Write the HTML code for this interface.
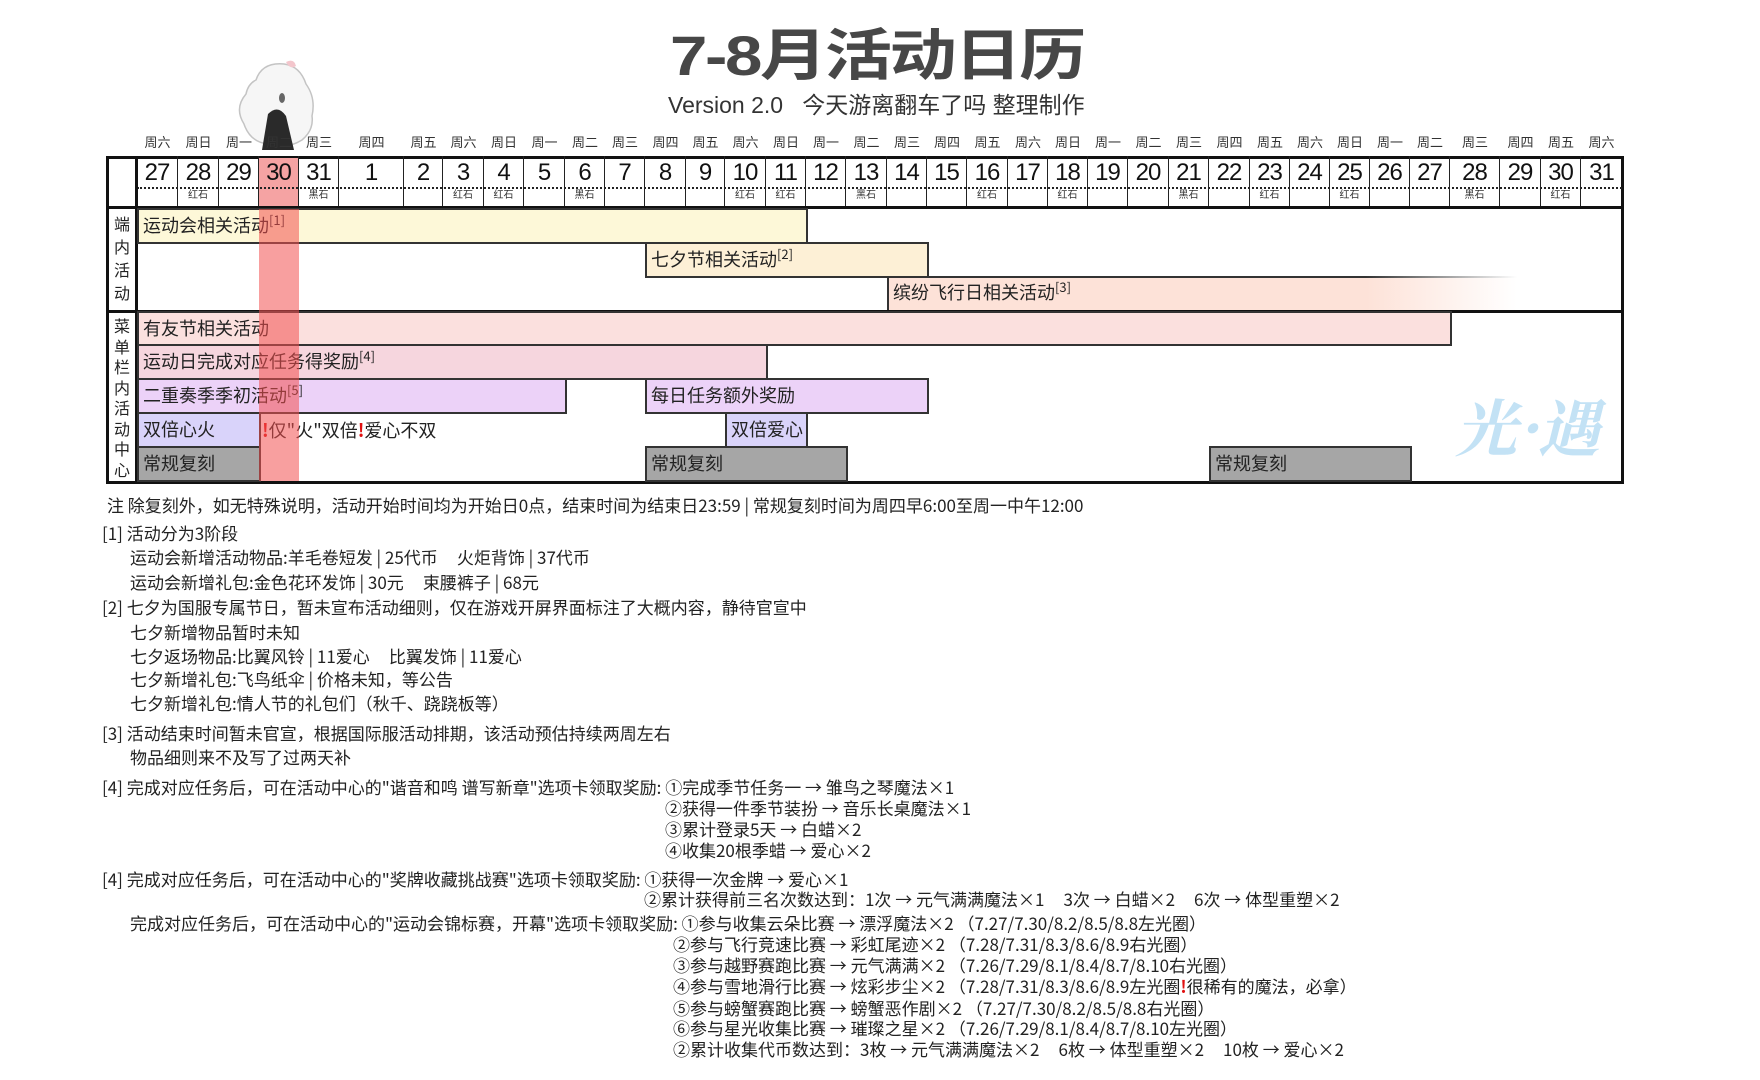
<!DOCTYPE html>
<html><head><meta charset="utf-8">
<style>
*{margin:0;padding:0;box-sizing:border-box}
body{width:1760px;height:1080px;background:#fff;position:relative;overflow:hidden;font-family:"Liberation Sans","Noto Sans CJK SC",sans-serif;color:#222}
.a{position:absolute}
.wd{position:absolute;top:134px;height:18px;font-size:13px;line-height:18px;text-align:center;color:#333;white-space:nowrap}
.c{position:absolute;top:156px;height:52px;border-right:1.5px solid #222;text-align:center}
.c .n{position:absolute;left:0;right:0;top:2px;font-size:24px;line-height:30px;letter-spacing:-1px;color:#111}
.c .s{position:absolute;left:0;right:0;top:33px;font-size:10px;line-height:14px;color:#333}
.bar{position:absolute;border:2px solid #333;font-size:18px;line-height:30px;padding-left:4px;white-space:nowrap;color:#222;font-family:"Noto Sans CJK SC",sans-serif}
.bar sup{font-size:13px;vertical-align:0;position:relative;top:-7px}
.nt{position:absolute;font-size:17px;line-height:20px;white-space:nowrap;color:#222;font-family:"Noto Sans CJK SC",sans-serif}
</style></head><body>

<div class="a" style="left:670px;top:22px;width:415px;height:70px;">
<div style="transform:scaleX(1.2);transform-origin:left top;font-size:56px;line-height:68px;font-weight:bold;color:#474747;white-space:nowrap;letter-spacing:-2px">7-8月活动日历</div></div>
<div class="a" style="left:668px;top:90px;font-size:23px;line-height:30px;color:#333;white-space:nowrap">Version 2.0&nbsp;&nbsp;&nbsp;今天游离翻车了吗 整理制作</div>

<svg class="a" style="left:228px;top:58px" width="95" height="95" viewBox="0 0 95 95">
<path d="M28 22 Q34 4 56 6 Q72 8 78 26 Q88 40 84 58 Q86 72 74 82 Q58 92 40 86 Q22 84 16 66 Q6 50 18 36 Q20 26 28 22Z" fill="#f6f6f6" stroke="#c4c4c4" stroke-width="1.5"/>
<path d="M58 4 Q66 0 68 8 Q62 12 58 4Z" fill="#f3c6cc"/>
<path d="M40 56 Q50 46 58 58 L66 92 L34 92Z" fill="#2a2a2a"/>
<ellipse cx="54" cy="40" rx="3" ry="5" fill="#666"/>
</svg>

<div class="wd" style="left:137px;width:41px">周六</div>
<div class="wd" style="left:178px;width:41px">周日</div>
<div class="wd" style="left:219px;width:40px">周一</div>
<div class="wd" style="left:259px;width:40px">周二</div>
<div class="wd" style="left:299px;width:40px">周三</div>
<div class="wd" style="left:339px;width:65px">周四</div>
<div class="wd" style="left:404px;width:39px">周五</div>
<div class="wd" style="left:443px;width:41px">周六</div>
<div class="wd" style="left:484px;width:40px">周日</div>
<div class="wd" style="left:524px;width:41px">周一</div>
<div class="wd" style="left:565px;width:40px">周二</div>
<div class="wd" style="left:605px;width:40px">周三</div>
<div class="wd" style="left:645px;width:41px">周四</div>
<div class="wd" style="left:686px;width:39px">周五</div>
<div class="wd" style="left:725px;width:41px">周六</div>
<div class="wd" style="left:766px;width:40px">周日</div>
<div class="wd" style="left:806px;width:40px">周一</div>
<div class="wd" style="left:846px;width:41px">周二</div>
<div class="wd" style="left:887px;width:40px">周三</div>
<div class="wd" style="left:927px;width:40px">周四</div>
<div class="wd" style="left:967px;width:41px">周五</div>
<div class="wd" style="left:1008px;width:40px">周六</div>
<div class="wd" style="left:1048px;width:40px">周日</div>
<div class="wd" style="left:1088px;width:40px">周一</div>
<div class="wd" style="left:1128px;width:41px">周二</div>
<div class="wd" style="left:1169px;width:40px">周三</div>
<div class="wd" style="left:1209px;width:41px">周四</div>
<div class="wd" style="left:1250px;width:40px">周五</div>
<div class="wd" style="left:1290px;width:40px">周六</div>
<div class="wd" style="left:1330px;width:40px">周日</div>
<div class="wd" style="left:1370px;width:40px">周一</div>
<div class="wd" style="left:1410px;width:40px">周二</div>
<div class="wd" style="left:1450px;width:50px">周三</div>
<div class="wd" style="left:1500px;width:41px">周四</div>
<div class="wd" style="left:1541px;width:40px">周五</div>
<div class="wd" style="left:1581px;width:41px">周六</div>

<div class="a" style="left:106px;top:156px;width:1518px;height:328px;border:3px solid #111"></div>
<div class="a" style="left:259px;top:158px;width:40px;height:50px;background:#f5a3a3"></div>

<div class="c" style="left:137px;width:41px"><div class="n">27</div></div>
<div class="c" style="left:178px;width:41px"><div class="n">28</div><div class="s">红石</div></div>
<div class="c" style="left:219px;width:40px"><div class="n">29</div></div>
<div class="c" style="left:259px;width:40px"><div class="n">30</div></div>
<div class="c" style="left:299px;width:40px"><div class="n">31</div><div class="s">黑石</div></div>
<div class="c" style="left:339px;width:65px"><div class="n">1</div></div>
<div class="c" style="left:404px;width:39px"><div class="n">2</div></div>
<div class="c" style="left:443px;width:41px"><div class="n">3</div><div class="s">红石</div></div>
<div class="c" style="left:484px;width:40px"><div class="n">4</div><div class="s">红石</div></div>
<div class="c" style="left:524px;width:41px"><div class="n">5</div></div>
<div class="c" style="left:565px;width:40px"><div class="n">6</div><div class="s">黑石</div></div>
<div class="c" style="left:605px;width:40px"><div class="n">7</div></div>
<div class="c" style="left:645px;width:41px"><div class="n">8</div></div>
<div class="c" style="left:686px;width:39px"><div class="n">9</div></div>
<div class="c" style="left:725px;width:41px"><div class="n">10</div><div class="s">红石</div></div>
<div class="c" style="left:766px;width:40px"><div class="n">11</div><div class="s">红石</div></div>
<div class="c" style="left:806px;width:40px"><div class="n">12</div></div>
<div class="c" style="left:846px;width:41px"><div class="n">13</div><div class="s">黑石</div></div>
<div class="c" style="left:887px;width:40px"><div class="n">14</div></div>
<div class="c" style="left:927px;width:40px"><div class="n">15</div></div>
<div class="c" style="left:967px;width:41px"><div class="n">16</div><div class="s">红石</div></div>
<div class="c" style="left:1008px;width:40px"><div class="n">17</div></div>
<div class="c" style="left:1048px;width:40px"><div class="n">18</div><div class="s">红石</div></div>
<div class="c" style="left:1088px;width:40px"><div class="n">19</div></div>
<div class="c" style="left:1128px;width:41px"><div class="n">20</div></div>
<div class="c" style="left:1169px;width:40px"><div class="n">21</div><div class="s">黑石</div></div>
<div class="c" style="left:1209px;width:41px"><div class="n">22</div></div>
<div class="c" style="left:1250px;width:40px"><div class="n">23</div><div class="s">红石</div></div>
<div class="c" style="left:1290px;width:40px"><div class="n">24</div></div>
<div class="c" style="left:1330px;width:40px"><div class="n">25</div><div class="s">红石</div></div>
<div class="c" style="left:1370px;width:40px"><div class="n">26</div></div>
<div class="c" style="left:1410px;width:40px"><div class="n">27</div></div>
<div class="c" style="left:1450px;width:50px"><div class="n">28</div><div class="s">黑石</div></div>
<div class="c" style="left:1500px;width:41px"><div class="n">29</div></div>
<div class="c" style="left:1541px;width:40px"><div class="n">30</div><div class="s">红石</div></div>
<div class="c" style="left:1581px;width:41px;border-right:none"><div class="n">31</div></div>
<div class="a" style="left:137px;top:187px;width:1485px;border-top:2px dotted #222"></div>

<div class="a" style="left:106px;top:206px;width:1518px;height:3px;background:#111"></div>
<div class="a" style="left:135px;top:156px;width:3px;height:328px;background:#111"></div>
<div class="a" style="left:106px;top:310px;width:1518px;height:3px;background:#111"></div>

<div class="a" style="left:109px;top:214px;width:26px;font-size:16px;line-height:23px;text-align:center;color:#222">端<br>内<br>活<br>动</div>
<div class="a" style="left:109px;top:318px;width:26px;font-size:16px;line-height:20.5px;text-align:center;color:#222">菜<br>单<br>栏<br>内<br>活<br>动<br>中<br>心</div>

<div class="bar" style="left:137px;top:208px;width:671px;height:36px;background:#fdf8d8">运动会相关活动<sup>[1]</sup></div>
<div class="bar" style="left:645px;top:242px;width:284px;height:36px;background:#fdf0d6">七夕节相关活动<sup>[2]</sup></div>
<div class="bar" style="left:887px;top:278px;width:630px;height:32px;border:none;border-left:2px solid #333;line-height:28px;background:linear-gradient(to right,#fde2d8 0%,#fde2d8 76%,rgba(253,226,216,0) 100%)">缤纷飞行日相关活动<sup>[3]</sup></div>
<div class="a" style="left:887px;top:276px;width:630px;height:2px;background:linear-gradient(to right,#333 0%,#333 76%,rgba(50,50,50,0) 100%)"></div>
<div class="bar" style="left:137px;top:311px;width:1315px;height:35px;background:#fbe0de">有友节相关活动</div>
<div class="bar" style="left:137px;top:344px;width:631px;height:36px;background:#f6d6de">运动日完成对应任务得奖励<sup>[4]</sup></div>
<div class="bar" style="left:137px;top:378px;width:430px;height:36px;background:#ecd2f8">二重奏季季初活动<sup>[5]</sup></div>
<div class="bar" style="left:645px;top:378px;width:284px;height:36px;background:#ecd2f8">每日任务额外奖励</div>
<div class="bar" style="left:137px;top:412px;width:124px;height:36px;background:#d9d3fa">双倍心火</div>
<div class="a" style="left:262px;top:413px;font-size:18px;line-height:34px;white-space:nowrap;color:#222;font-family:'Noto Sans CJK SC',sans-serif"><span style="color:#e01010;font-weight:bold">!</span>仅"火"双倍<span style="color:#e01010;font-weight:bold">!</span>爱心不双</div>
<div class="bar" style="left:725px;top:412px;width:83px;height:36px;background:#d9d3fa">双倍爱心</div>
<div class="bar" style="left:137px;top:446px;width:124px;height:36px;background:#a6a6a6">常规复刻</div>
<div class="bar" style="left:645px;top:446px;width:203px;height:36px;background:#a6a6a6">常规复刻</div>
<div class="bar" style="left:1209px;top:446px;width:203px;height:36px;background:#a6a6a6">常规复刻</div>

<div class="a" style="left:259px;top:209px;width:40px;height:272px;background:rgba(242,80,80,0.55)"></div>

<div class="a" style="left:1455px;top:385px;font-size:62px;line-height:80px;color:#c3e2f5;font-style:italic;font-weight:bold;white-space:nowrap;font-family:'Noto Serif CJK SC',serif">光·遇</div>

<div class="nt" style="left:107px;top:495px">注 除复刻外，如无特殊说明，活动开始时间均为开始日0点，结束时间为结束日23:59 | 常规复刻时间为周四早6:00至周一中午12:00</div>
<div class="nt" style="left:102px;top:523px">[1] 活动分为3阶段</div>
<div class="nt" style="left:130px;top:547px">运动会新增活动物品:羊毛卷短发 | 25代币&nbsp;&nbsp;&nbsp;&nbsp;&nbsp;火炬背饰 | 37代币</div>
<div class="nt" style="left:130px;top:572px">运动会新增礼包:金色花环发饰 | 30元&nbsp;&nbsp;&nbsp;&nbsp;&nbsp;束腰裤子 | 68元</div>
<div class="nt" style="left:102px;top:597px">[2] 七夕为国服专属节日，暂未宣布活动细则，仅在游戏开屏界面标注了大概内容，静待官宣中</div>
<div class="nt" style="left:130px;top:622px">七夕新增物品暂时未知</div>
<div class="nt" style="left:130px;top:646px">七夕返场物品:比翼风铃 | 11爱心&nbsp;&nbsp;&nbsp;&nbsp;&nbsp;比翼发饰 | 11爱心</div>
<div class="nt" style="left:130px;top:669px">七夕新增礼包:飞鸟纸伞 | 价格未知，等公告</div>
<div class="nt" style="left:130px;top:693px">七夕新增礼包:情人节的礼包们（秋千、跷跷板等）</div>
<div class="nt" style="left:102px;top:723px">[3] 活动结束时间暂未官宣，根据国际服活动排期，该活动预估持续两周左右</div>
<div class="nt" style="left:130px;top:747px">物品细则来不及写了过两天补</div>
<div class="nt" style="left:102px;top:777px">[4] 完成对应任务后，可在活动中心的"谐音和鸣 谱写新章"选项卡领取奖励: ①完成季节任务一 → 雏鸟之琴魔法×1</div>
<div class="nt" style="left:665px;top:798px">②获得一件季节装扮 → 音乐长桌魔法×1</div>
<div class="nt" style="left:665px;top:819px">③累计登录5天 → 白蜡×2</div>
<div class="nt" style="left:665px;top:840px">④收集20根季蜡 → 爱心×2</div>
<div class="nt" style="left:102px;top:869px">[4] 完成对应任务后，可在活动中心的"奖牌收藏挑战赛"选项卡领取奖励: ①获得一次金牌 → 爱心×1</div>
<div class="nt" style="left:644px;top:889px">②累计获得前三名次数达到：1次 → 元气满满魔法×1&nbsp;&nbsp;&nbsp;&nbsp;&nbsp;3次 → 白蜡×2&nbsp;&nbsp;&nbsp;&nbsp;&nbsp;6次 → 体型重塑×2</div>
<div class="nt" style="left:130px;top:913px">完成对应任务后，可在活动中心的"运动会锦标赛，开幕"选项卡领取奖励: ①参与收集云朵比赛 → 漂浮魔法×2 （7.27/7.30/8.2/8.5/8.8左光圈）</div>
<div class="nt" style="left:673px;top:934px">②参与飞行竞速比赛 → 彩虹尾迹×2 （7.28/7.31/8.3/8.6/8.9右光圈）</div>
<div class="nt" style="left:673px;top:955px">③参与越野赛跑比赛 → 元气满满×2 （7.26/7.29/8.1/8.4/8.7/8.10右光圈）</div>
<div class="nt" style="left:673px;top:976px">④参与雪地滑行比赛 → 炫彩步尘×2 （7.28/7.31/8.3/8.6/8.9左光圈<span style="color:#e01010;font-weight:bold">!</span>很稀有的魔法，必拿）</div>
<div class="nt" style="left:673px;top:998px">⑤参与螃蟹赛跑比赛 → 螃蟹恶作剧×2 （7.27/7.30/8.2/8.5/8.8右光圈）</div>
<div class="nt" style="left:673px;top:1018px">⑥参与星光收集比赛 → 璀璨之星×2 （7.26/7.29/8.1/8.4/8.7/8.10左光圈）</div>
<div class="nt" style="left:673px;top:1039px">②累计收集代币数达到：3枚 → 元气满满魔法×2&nbsp;&nbsp;&nbsp;&nbsp;&nbsp;6枚 → 体型重塑×2&nbsp;&nbsp;&nbsp;&nbsp;&nbsp;10枚 → 爱心×2</div>

</body></html>
